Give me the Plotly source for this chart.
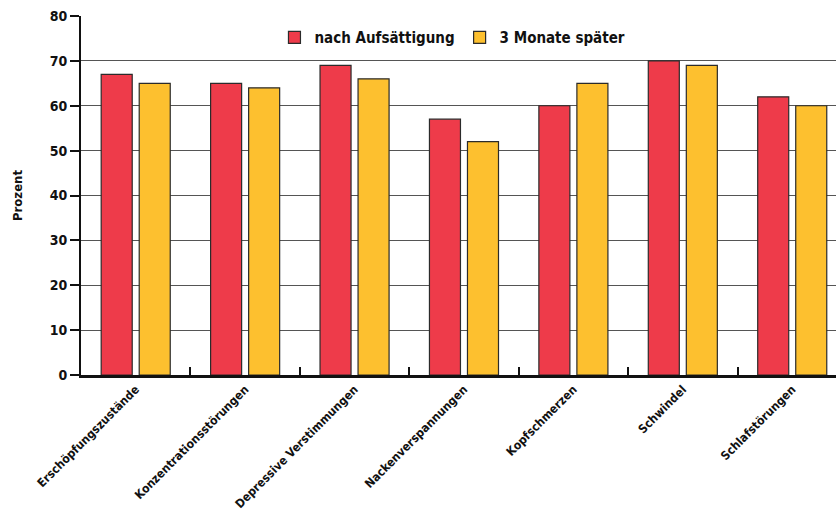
import plotly.graph_objects as go

# symptom categories (x axis)
categories = [
    "Erschöpfungszustände",
    "Konzentrationsstörungen",
    "Depressive Verstimmungen",
    "Nackenverspannungen",
    "Kopfschmerzen",
    "Schwindel",
    "Schlafstörungen",
]

# percent values per series
nach_aufsaettigung = [67, 65, 69, 57, 60, 70, 62]
drei_monate_spaeter = [65, 64, 66, 52, 65, 69, 60]

series_names = ["nach Aufsättigung", "3 Monate später"]
colors = ["#EE3B4A", "#FDC02F"]

FONT = "DejaVu Sans Condensed, Roboto, sans-serif"

fig = go.Figure()
for name, vals, col in zip(series_names, [nach_aufsaettigung, drei_monate_spaeter], colors):
    fig.add_trace(
        go.Bar(
            x=categories,
            y=vals,
            name=name,
            marker=dict(color=col, line=dict(color="#2b2b2b", width=1.2)),
        )
    )

fig.update_layout(
    width=836,
    height=515,
    margin=dict(l=81, r=0, t=16, b=140),
    paper_bgcolor="white",
    plot_bgcolor="white",
    font=dict(family=FONT, color="#111111", size=14, weight="bold"),
    barmode="group",
    bargap=0.305,
    bargroupgap=0.184,
    legend=dict(
        orientation="h",
        x=0.492,
        xanchor="center",
        y=0.94,
        yanchor="middle",
        font=dict(size=15, family=FONT, weight="bold"),
        bgcolor="rgba(255,255,255,0)",
        itemwidth=30,
    ),
    xaxis=dict(
        range=[-0.5, 6.4],
        automargin=False,
        tickangle=-45,
        tickson="boundaries",
        ticks="inside",
        ticklen=8,
        tickwidth=1.5,
        tickcolor="#111111",
        showline=True,
        linecolor="#111111",
        linewidth=2.5,
        showgrid=False,
        tickfont=dict(size=12, family=FONT, weight="bold"),
    ),
    yaxis=dict(
        range=[0, 80],
        automargin=False,
        dtick=10,
        ticks="outside",
        ticklen=9,
        tickwidth=2,
        tickcolor="#111111",
        showline=True,
        linecolor="#111111",
        linewidth=2,
        showgrid=True,
        gridcolor="#555555",
        gridwidth=1,
        zeroline=False,
        tickfont=dict(size=14, family=FONT, weight="bold"),
        title=dict(text="Prozent", font=dict(size=13, family=FONT, weight="bold"), standoff=24),
    ),
)

# drop the browser's default 8px body margin so the figure sits at the page corner
fig.write_html(
    "out.html",
    config={"displayModeBar": False},
    post_script="document.body.style.margin='0';",
)
